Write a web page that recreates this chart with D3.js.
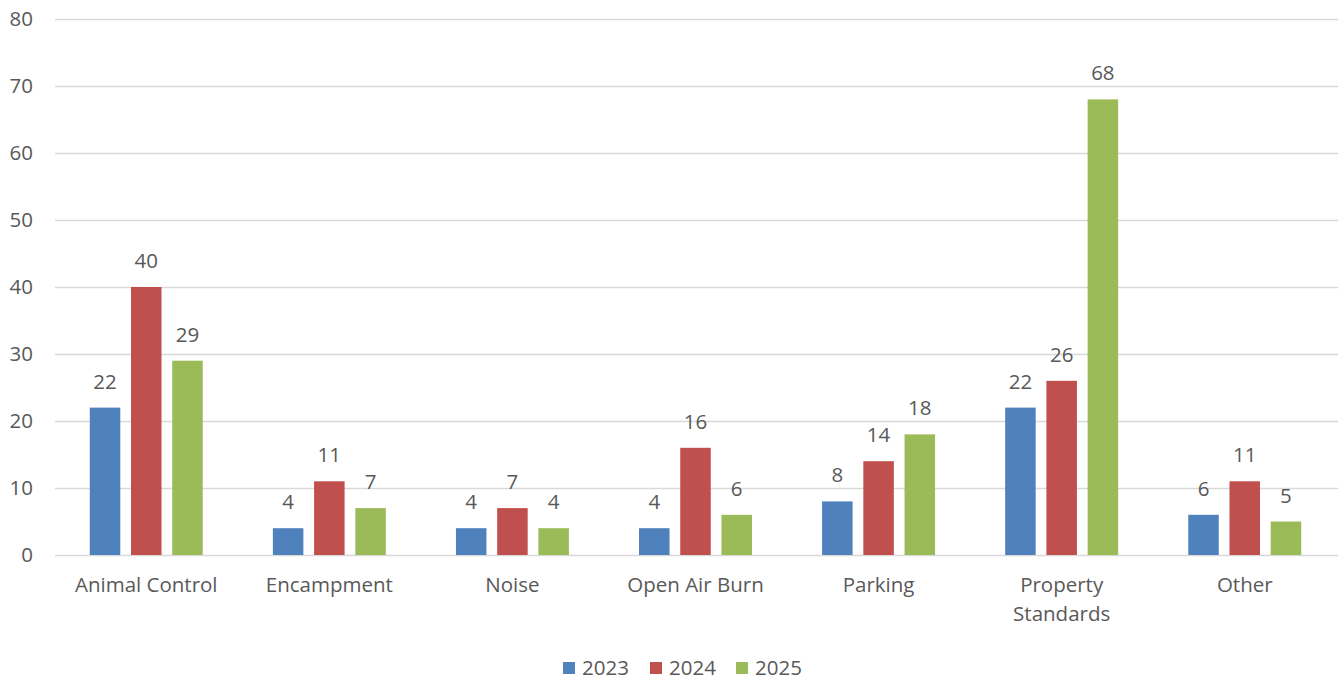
<!DOCTYPE html>
<html>
<head>
<meta charset="utf-8">
<script src="https://cdn.jsdelivr.net/npm/d3@7"></script>
<style>
  body { margin: 0; background: #fff; }
  text { font-family: "Open Sans", "Noto Sans", sans-serif; fill: #595959; }
</style>
</head>
<body>
<svg id="chart" width="1338" height="681"></svg>
<script>
const categories = ['Animal Control', 'Encampment', 'Noise', 'Open Air Burn', 'Parking', 'Property Standards', 'Other'];
const years = ['2023', '2024', '2025'];
const values2023 = [22, 4, 4, 4, 8, 22, 6];
const values2024 = [40, 11, 7, 16, 14, 26, 11];
const values2025 = [29, 7, 4, 6, 18, 68, 5];
const yTicks = [0, 10, 20, 30, 40, 50, 60, 70, 80];
const colors = ['#4F81BD', '#C0504D', '#9BBB59'];

const series = [values2023, values2024, values2025];
const svg = d3.select('#chart');
const margin = { left: 55, right: 2, top: 19, bottom: 126 };
const width = 1338;
const height = 681;
const fs = '20.5px';

const x = d3.scaleBand()
  .domain(categories)
  .range([margin.left, width - margin.right])
  .paddingInner(0.383)
  .paddingOuter(0.19);

const xs = d3.scaleBand()
  .domain(years)
  .range([0, x.bandwidth()])
  .paddingInner(0.26);

const y = d3.scaleLinear()
  .domain([0, 80])
  .range([height - margin.bottom, margin.top]);

// gridlines
svg.append('g')
  .selectAll('line')
  .data(yTicks)
  .enter().append('line')
  .attr('x1', 55)
  .attr('x2', width)
  .attr('y1', d => Math.round(y(d)) + 0.5)
  .attr('y2', d => Math.round(y(d)) + 0.5)
  .attr('stroke', '#D9D9D9')
  .attr('stroke-width', 1.5);

// y labels
svg.append('g')
  .selectAll('text')
  .data(yTicks)
  .enter().append('text')
  .attr('x', 33)
  .attr('y', d => y(d))
  .attr('dy', '0.35em')
  .attr('text-anchor', 'end')
  .style('font-size', fs)
  .text(d => d);

// bars
const groups = svg.append('g')
  .selectAll('g')
  .data(categories)
  .enter().append('g')
  .attr('transform', d => `translate(${x(d)},0)`);

years.forEach((yr, i) => {
  groups.append('rect')
    .attr('x', xs(yr))
    .attr('width', xs.bandwidth())
    .attr('y', (d, j) => y(series[i][j]))
    .attr('height', (d, j) => y(0) - y(series[i][j]))
    .attr('fill', colors[i]);

  groups.append('text')
    .attr('x', xs(yr) + xs.bandwidth() / 2)
    .attr('y', (d, j) => y(series[i][j]) - 19)
    .attr('text-anchor', 'middle')
    .style('font-size', fs)
    .text((d, j) => series[i][j]);
});

// x labels
svg.append('g')
  .selectAll('text')
  .data(categories)
  .enter().append('text')
  .attr('text-anchor', 'middle')
  .style('font-size', fs)
  .each(function (d) {
    const cx = x(d) + x.bandwidth() / 2;
    const lines = d === 'Property Standards' ? ['Property', 'Standards'] : [d];
    lines.forEach((l, k) => {
      d3.select(this).append('tspan')
        .attr('x', cx)
        .attr('y', 592 + k * 29)
        .text(l);
    });
  });

// legend
const legend = svg.append('g');
const legendX = [563, 650, 736];
years.forEach((yr, i) => {
  legend.append('rect')
    .attr('x', legendX[i])
    .attr('y', 662)
    .attr('width', 12)
    .attr('height', 12)
    .attr('fill', colors[i]);
  legend.append('text')
    .attr('x', legendX[i] + 19)
    .attr('y', 675)
    .style('font-size', fs)
    .text(yr);
});
</script>
</body>
</html>
